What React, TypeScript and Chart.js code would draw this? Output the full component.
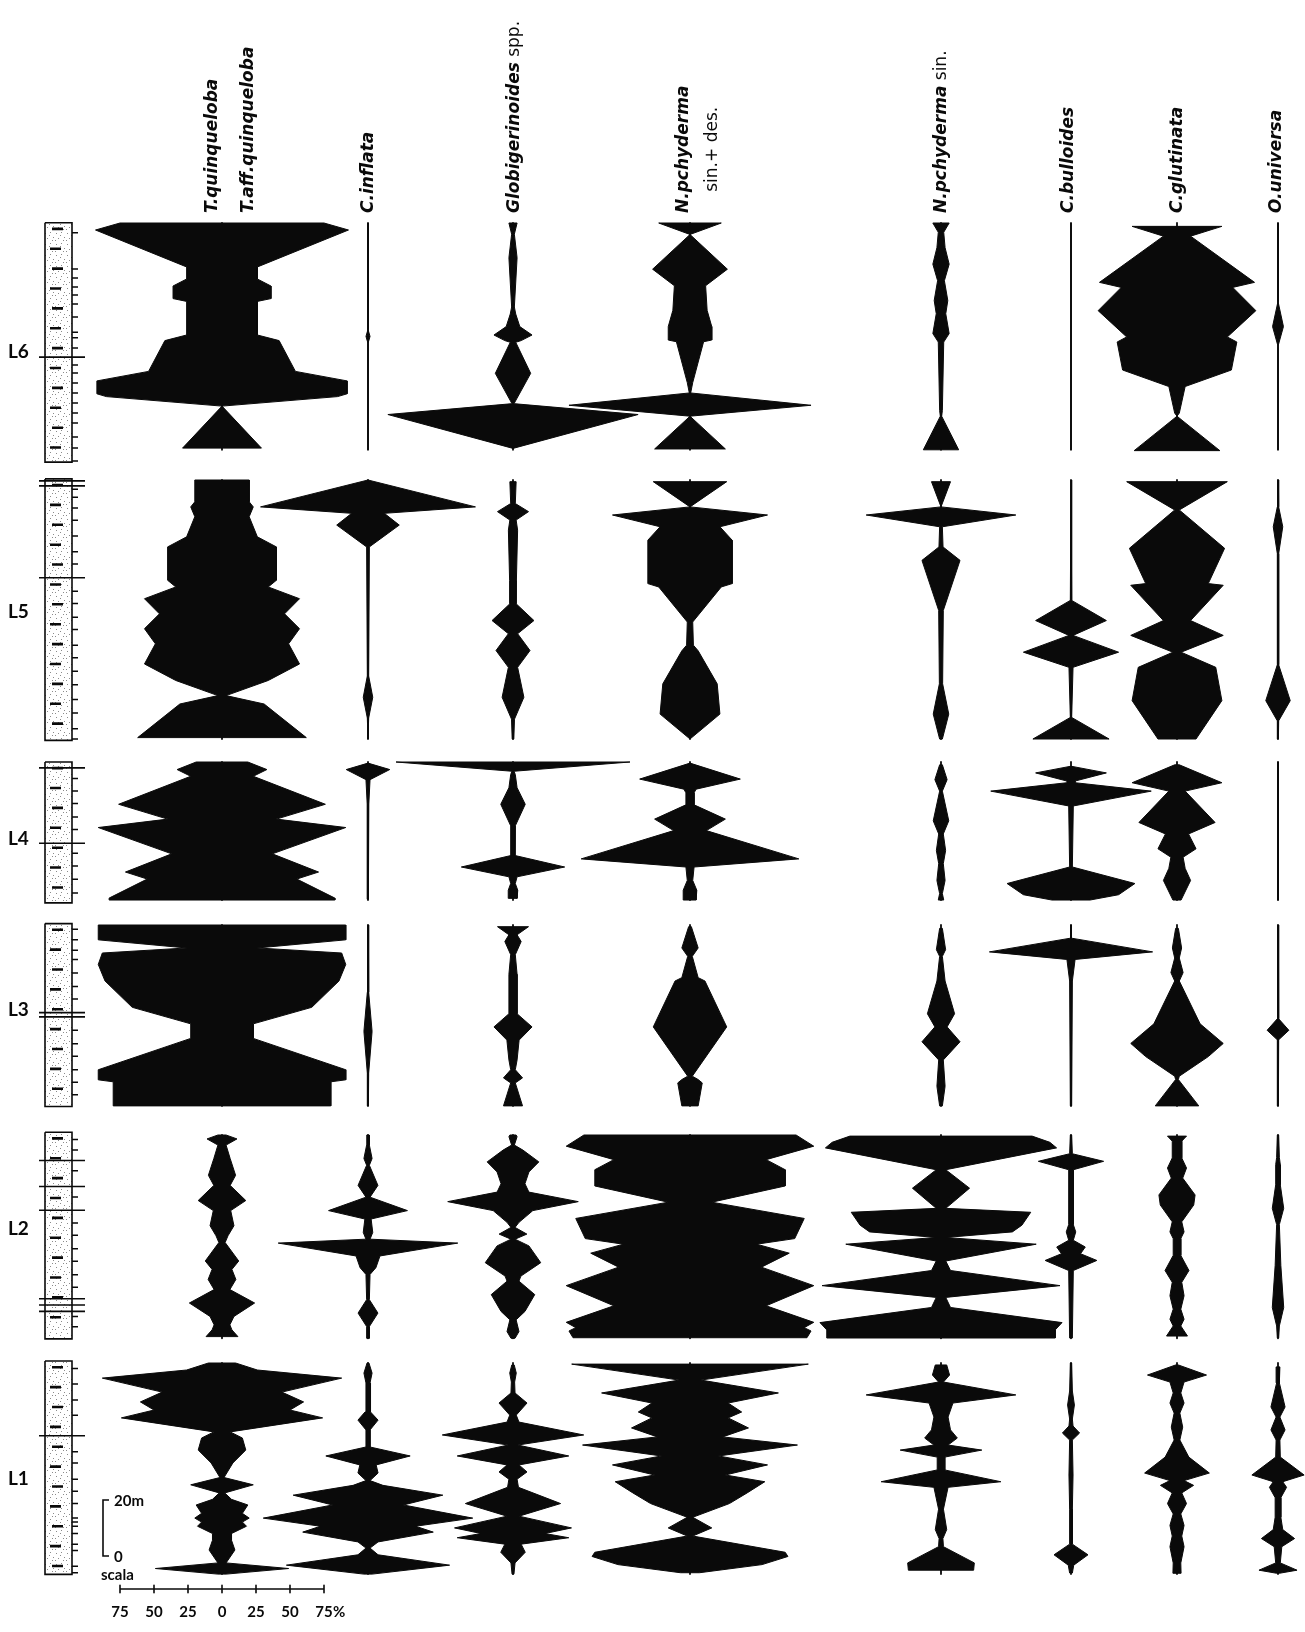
import React, { useEffect, useRef } from "react";
import { Chart, registerables } from "chart.js";

Chart.register(...registerables);

// ================= DATA =================
const SPECIES = [
  "T. quinqueloba + T. aff. quinqueloba",
  "C. inflata",
  "Globigerinoides spp.",
  "N. pachyderma sin. + des.",
  "N. pachyderma sin.",
  "C. bulloides",
  "C. glutinata",
  "O. universa",
];
const SECTIONS = ["L6", "L5", "L4", "L3", "L2", "L1"];
const SECTION_LENGTH_M = [81, 92.5, 49.3, 64.6, 72.6, 75.4];
const STRAT_TOP_M = [-0.1, -0.4, 0, -0.5, -1, -0.7];
const STRAT_BASE_M = [85.4, 93, 50.3, 64.8, 72.8, 75.5];
const SCALE_TICKS = [-75, -50, -25, 0, 25, 50, 75];
const SCALE_BAR_M = 20;

// profiles: [depth below section top (m), abundance (%)]
// ---- L6
const L6_TQ = [[0, 75], [2.5, 93], [15.7, 26], [20, 26], [22.5, 36], [27, 36], [28, 26], [40, 26], [42, 42], [53, 54], [56.4, 92], [61, 92], [62, 85], [65.4, 0], [80.4, 29]];
const L6_CI = [[0, 0], [38, 0], [40.5, 1.5], [43, 0], [81, 0]];
const L6_GL = [[0, 3], [4, 1], [12.4, 3], [30, 1], [32.5, 2], [37, 5], [40, 14], [42, 6], [42.6, 2], [53.7, 13], [64.3, 1], [64.5, 0], [68.4, 92], [80.5, 0]];
const L6_NS = [[0, 23], [4.1, 0], [16.5, 27.5], [22.4, 11.5], [31.2, 12.6], [37, 16], [41.8, 16], [42.4, 10], [57, 2], [60.7, 0.5], [65.1, 89], [69, 0], [80.7, 26]];
const L6_NN = [[0, 6], [3.3, 2], [8.8, 3], [14.7, 6], [20.6, 2.5], [27.7, 5], [32.4, 3.5], [39.5, 6], [42.5, 2], [67, 1], [69, 0.5], [81, 13]];
const L6_CB = [[0, 0], [81, 0]];
const L6_GG = [[1.2, 33], [4.7, 10], [21.2, 57], [23, 41], [31.3, 58], [40.7, 37], [42.5, 44], [52.5, 40], [58.4, 6], [67.9, 1.7], [69, 0], [81.3, 31.5]];
const L6_OU = [[0, 0], [28, 0], [37, 4], [44, 0], [81, 0]];
// ---- L5
const L5_TQ = [[0, 20], [7.8, 20], [9.6, 23], [13.1, 20], [20.3, 26], [23.9, 40], [35.8, 40], [38.2, 34], [42.4, 57], [47.8, 46], [53.1, 57], [58.5, 49], [65.7, 57], [71.6, 34], [77, 3], [80, 31], [92, 62]];
const L5_CI = [[0, 0], [9.6, 79], [11.9, 12], [16.1, 23], [23.9, 1], [70, 0.5], [77.6, 3.5], [85, 0.5], [92.5, 0]];
const L5_GL = [[0.6, 2.3], [8.4, 1.7], [11.3, 11.4], [14.3, 2.3], [17.9, 3.4], [35.8, 2.5], [44.2, 2.3], [50.2, 15.4], [54.9, 3.4], [60.9, 12.5], [66.9, 3.4], [77.6, 8], [85.4, 1.1], [92.5, 0.6]];
const L5_NS = [[0.6, 27], [9.6, 0], [12.5, 57], [16.7, 22], [21.5, 31], [37, 31], [38.2, 23], [50.7, 2], [59, 2.5], [61, 6], [72.8, 20], [83.6, 22], [92.5, 0]];
const L5_NN = [[0.6, 7], [9.6, 0], [12.5, 55], [16.7, 1], [23.9, 1.5], [28.7, 14], [46.6, 1.7], [72.8, 1.2], [83.6, 5.7], [92.5, 1]];
const L5_CB = [[0, 0], [43, 0.5], [50.2, 26], [55.5, 1.5], [61.5, 35], [66.9, 1.5], [84.8, 0.5], [92.5, 28]];
const L5_GG = [[0.6, 37], [10.7, 1.7], [24.4, 35], [37, 23], [37.6, 34], [50.2, 10], [55.5, 34], [61.5, 3], [66.9, 28.5], [78.8, 33], [92.5, 14]];
const L5_OU = [[0, 0.3], [9.6, 0.5], [16.7, 3.5], [26.3, 0.5], [66, 0.5], [78.8, 9], [86, 0.5], [92.5, 0.3]];
// ---- L4
const L4_TQ = [[0, 19], [2.7, 33], [5.1, 23], [15.1, 76], [20.4, 40], [23.4, 91], [32.8, 37], [39.3, 71], [41.8, 55], [48.6, 83], [49.3, 83]];
const L4_CI = [[0.4, 0], [2.7, 16], [6.3, 1.5], [15, 0.6], [49, 0.3]];
const L4_GL = [[0, 86], [3.3, 0.8], [4.5, 1.7], [9.2, 3], [15.1, 9], [22.8, 1.7], [33.4, 1.5], [37.5, 38], [41, 3], [43.4, 1.7], [45.8, 3.5], [48.7, 3]];
const L4_NS = [[0.4, 0], [6.1, 37], [9.7, 4.5], [11, 3], [15.3, 3], [20.4, 26], [24.5, 12], [34.6, 80], [37.5, 3], [42.3, 2], [45.8, 5], [49.3, 4.5]];
const L4_NN = [[1, 1], [6.3, 4.5], [10.4, 1], [21, 5.7], [25.7, 1.7], [31.6, 3.4], [36.3, 1.7], [42.3, 3], [47, 1], [49.3, 2]];
const L4_CB = [[1.5, 0], [3.9, 26], [6.8, 3], [7.4, 3], [10.4, 59], [15.7, 1.7], [37.5, 1], [43.4, 47], [47.4, 35], [49.3, 14]];
const L4_GG = [[1, 1.7], [7.4, 33], [10.4, 6], [21.6, 28], [25.7, 8.5], [31, 14], [34, 4.5], [38, 6], [42.3, 10], [49.3, 3]];
const L4_OU = [[0, 0.3], [49.3, 0.3]];
// ---- L3
const L3_TQ = [[0, 91], [5.3, 91], [8.2, 26], [10, 88], [14.1, 91], [20, 86], [29.4, 66], [35.3, 23], [40.5, 23], [51.7, 91], [55.3, 91], [56, 80], [64.6, 80]];
const L3_CI = [[0, 0.3], [24, 0.5], [38, 3], [52.9, 0.5], [64.6, 0.3]];
const L3_GL = [[0.6, 11.4], [3.5, 3], [5.9, 6], [10.6, 1.7], [17.6, 3], [31.7, 3], [36.4, 14], [41.1, 4.5], [48.2, 3], [51.7, 1.7], [54.6, 7], [56.4, 1.7], [64.6, 7]];
const L3_NS = [[0.6, 1], [8.2, 6], [11.2, 1.7], [18.8, 6], [20, 11], [36.4, 27], [54, 1.7], [55.2, 6], [56.4, 9], [64.6, 6]];
const L3_NN = [[1.2, 1], [8.8, 3.4], [11.2, 1], [20, 3], [31.7, 10], [36.4, 4.5], [41.7, 14], [48.2, 1.7], [57.6, 3], [64.6, 1]];
const L3_CB = [[0, 0.3], [4.7, 0.3], [9.6, 60], [12.3, 3], [20, 1], [64.6, 0.5]];
const L3_GG = [[1.2, 1], [8.2, 3.4], [11.8, 1.7], [17, 4.5], [20, 1.7], [35.3, 17], [42.3, 34], [47, 23], [54, 1.7], [55.2, 1], [64.6, 16]];
const L3_OU = [[0, 0.3], [33.5, 0.5], [37.6, 8], [41, 0.5], [64.6, 0.3]];
// ---- L2
const L2_TQ = [[0, 3], [1.4, 11], [3.6, 3], [8.4, 6], [14.4, 10], [18, 6], [23.4, 17.5], [27, 6.4], [32.4, 8.8], [36, 4.4], [38.4, 2.3], [45, 12.3], [48, 7.3], [51.6, 10.2], [55.2, 5.8], [60, 24], [64.8, 8.8], [67.8, 5.8], [69.6, 7.3], [72, 11.7]];
const L2_CI = [[0, 0.9], [3.6, 1], [8.4, 3], [10.8, 1], [18, 7.3], [22.2, 1.5], [27, 29], [30, 2.3], [34.8, 3.5], [37.2, 1.5], [38.6, 66], [43.2, 8.8], [47.4, 5.8], [49.8, 1.5], [58.8, 1], [63.6, 7.3], [68.4, 1], [72.6, 1]];
const L2_GL = [[0, 2.3], [0.6, 3], [3.6, 1], [5.4, 7.3], [9.6, 19], [13.2, 11.7], [17.4, 8.8], [20.4, 11.7], [23.8, 48], [27, 14.6], [31.2, 4.4], [33, 1.5], [35.4, 10.2], [37.2, 1.5], [39.6, 11.7], [45.6, 20.4], [50.4, 5.8], [52.2, 4.4], [57, 16], [63, 8.8], [66, 2.3], [70.2, 4.4], [72.6, 1.5]];
const L2_NS = [[0, 78], [4, 91], [8.8, 56], [12.4, 70], [18.2, 70], [24, 16], [29.8, 84], [37, 77], [39, 49], [42.2, 73], [47.2, 52.5], [53.8, 91], [61, 56], [66.9, 91], [68.8, 84], [70, 89], [72.4, 86]];
const L2_NN = [[0.4, 67], [2.6, 80], [4.6, 85], [12.4, 3.5], [19, 21], [26.2, 3.5], [27.6, 66], [32.2, 59.5], [34.6, 52.5], [36.6, 3.5], [39, 70], [45, 3.5], [48.4, 7], [53.8, 87.5], [58, 3.5], [61.6, 7], [67, 89], [69.6, 84], [72.5, 84]];
const L2_CB = [[0, 0.5], [6.7, 1], [9.4, 24], [12.4, 1.7], [32, 1.7], [34.6, 3.5], [37.6, 1.7], [40, 10.5], [42.4, 7], [44.8, 19], [48.4, 1.7], [72.5, 1]];
const L2_GG = [[0.4, 7], [2.2, 3.5], [8.2, 3.5], [11.8, 7], [15.4, 4.2], [21.4, 13.3], [25, 12.3], [31, 3.5], [34.6, 5.2], [37, 2.8], [43, 2.8], [48.4, 8.8], [52.6, 3.5], [57.4, 5.2], [62.2, 2.8], [65.8, 5.2], [68.2, 2.8], [71.8, 7.7]];
const L2_OU = [[0, 0.5], [8, 1], [10.6, 1.7], [17.8, 1.7], [26.2, 4.2], [32, 1], [46.6, 2.1], [61.6, 4.2], [68.2, 1], [72.5, 0.5]];
// ---- L1
const L1_TQ = [[0, 10], [2.5, 26], [5.4, 88], [10.4, 44], [13.9, 60], [16.8, 50], [19.6, 74], [24.6, 6], [26.8, 15], [31.1, 17.5], [35.7, 8], [40.9, 1.5], [43.5, 23], [46.4, 2], [48.7, 7], [50.7, 19], [53.7, 15], [55.4, 20], [56.8, 15], [58.3, 18], [60.9, 7], [63.3, 7], [66.8, 9.5], [71.4, 3], [73.4, 49], [75.4, 3]];
const L1_CI = [[0, 0.7], [3.6, 3], [7.1, 1.5], [13.2, 1.5], [17.5, 2.2], [20.4, 7.4], [23.9, 1.5], [30, 1.5], [33.2, 31], [36.4, 6], [39.3, 7.4], [42, 1.5], [43.7, 11], [47.2, 55], [50.7, 26], [55.4, 77], [58.3, 35], [60.4, 48], [63.9, 7.4], [66.1, 1.5], [68.5, 7.4], [72.2, 60], [75.4, 3]];
const L1_GL = [[0.7, 0.9], [3.6, 2.4], [6.8, 1.2], [10.7, 1.5], [14.3, 10.3], [18.6, 2.4], [21.1, 4.4], [25.7, 52], [29.3, 3.5], [33.2, 41], [36.4, 4.4], [38.9, 10.3], [41.5, 3], [44.4, 4], [50.2, 35], [54.7, 4.4], [58.9, 43], [60.9, 23.5], [62.4, 41], [64.7, 6], [67.6, 9], [71.4, 1.5], [75.4, 0.7]];
const L1_NS = [[0.4, 87], [6.1, 8], [10.7, 65], [14.3, 28], [17.5, 38], [19.6, 28], [23.2, 43], [26.4, 24], [29.3, 79], [33.2, 21], [36.4, 57], [40, 26], [42.4, 55], [46.4, 42], [50.2, 29], [55.1, 2], [58.9, 16], [61.8, 2], [67.6, 70], [69.1, 72], [72, 53], [74.9, 7]];
const L1_NN = [[0.7, 4.2], [4.3, 6.3], [6.8, 1.8], [11.4, 55], [14.3, 8.8], [19.3, 5.2], [23.9, 7], [26.8, 12], [29.3, 5.2], [31.1, 30], [33.6, 2.8], [38.2, 2.8], [42.4, 44], [44.4, 5.2], [52.2, 1.8], [59.5, 4.2], [62.7, 1.4], [65.6, 1.8], [71.4, 24.5], [74, 24]];
const L1_CB = [[0, 0.5], [10, 1], [15, 2.5], [20, 1], [22.5, 1.5], [25, 6.3], [27.5, 1], [40, 1.5], [52.2, 1], [64.7, 1], [68.5, 12.5], [72.2, 2], [75, 1]];
const L1_GG = [[0.7, 1], [4.3, 21.7], [6.8, 5.2], [10.7, 2.8], [14.3, 5.2], [17.9, 2.1], [22.9, 4.2], [27.5, 2.1], [33.6, 8.7], [39.3, 23.8], [42, 5.2], [43.7, 12.2], [46.4, 3.5], [50.2, 7], [53.9, 2.8], [58, 5.2], [61.8, 3.5], [65.6, 5.2], [71.4, 2.8], [75.1, 3]];
const L1_OU = [[1.4, 1.4], [7.1, 1], [15.7, 5.2], [19.3, 1.4], [23.9, 5.2], [27.5, 1.4], [33.6, 1.7], [40, 19.2], [42.4, 3.5], [44.4, 6.3], [48.1, 2.1], [55.1, 2.1], [59.5, 3.5], [62.7, 12.2], [65.6, 2.8], [71.4, 1.7], [74, 14], [75.1, 1]];

// sample levels (ticks on the right of each log) and marker horizons (m below top)
const L6_SAMPLES = [3.5, 16.4, 19.6, 22.9, 25.7, 28.9, 33.6, 39, 41, 44.6, 50.7, 53.6, 57.1, 60.7, 64.3, 67.9, 71.4, 76.4, 80.4, 85];
const L6_MARKERS = [47.9];
const L5_SAMPLES = [3.3, 6.2, 10, 14.4, 20, 25.6, 30, 39.7, 44.1, 49, 53.4, 59, 63.5, 68.3, 73.1, 78.4, 83.2, 88.8, 92.5];
const L5_MARKERS = [0.3, 2.1, 34.9];
const L4_SAMPLES = [5.9, 10.4, 14.8, 19.6, 24.1, 32.6, 37.1, 41.9, 46.8];
const L4_MARKERS = [2.1, 29];
const L3_SAMPLES = [1.5, 5.3, 9, 12.3, 17.1, 22, 26.4, 37.6, 42.4, 46.9, 51.7, 56.2, 60.6];
const L3_MARKERS = [31.3, 32.8];
const L2_SAMPLES = [1.6, 5.4, 12.8, 22.1, 31.4, 35.8, 40.6, 45.1, 49.9, 54.4, 64.8, 68.5];
const L2_MARKERS = [9.1, 18.4, 26.9, 58.5, 60.7, 63];
const L1_SAMPLES = [2, 7.5, 13.2, 18.7, 31.7, 35.7, 41.5, 45.8, 50.2, 55.4, 56.8, 58.3, 60.9, 64.7, 67, 72.6, 74.9];
const L1_MARKERS = [26];

const PROFILES = [
  [L6_TQ, L6_CI, L6_GL, L6_NS, L6_NN, L6_CB, L6_GG, L6_OU],
  [L5_TQ, L5_CI, L5_GL, L5_NS, L5_NN, L5_CB, L5_GG, L5_OU],
  [L4_TQ, L4_CI, L4_GL, L4_NS, L4_NN, L4_CB, L4_GG, L4_OU],
  [L3_TQ, L3_CI, L3_GL, L3_NS, L3_NN, L3_CB, L3_GG, L3_OU],
  [L2_TQ, L2_CI, L2_GL, L2_NS, L2_NN, L2_CB, L2_GG, L2_OU],
  [L1_TQ, L1_CI, L1_GL, L1_NS, L1_NN, L1_CB, L1_GG, L1_OU],
];
const SAMPLES = [L6_SAMPLES, L5_SAMPLES, L4_SAMPLES, L3_SAMPLES, L2_SAMPLES, L1_SAMPLES];
const MARKERS = [L6_MARKERS, L5_MARKERS, L4_MARKERS, L3_MARKERS, L2_MARKERS, L1_MARKERS];

// ================= LAYOUT / STYLE =================
const W = 1305;
const H = 1632;
const PX_PER_PCT = 1.36;
const PX_PER_M = 2.8;
const SECTION_TOP_PX = [223, 480, 762, 925, 1135, 1363];
const SECTION_LABEL_Y = [351, 611, 838, 1009, 1228, 1478];
const COLUMN_CENTER_PX = [222, 368, 513, 690, 941, 1071, 1177, 1278];
const STRAT_L = 45;
const STRAT_R = 72;
const TICK_R = 78;
const MARK_L = 39;
const MARK_R = 85;
const DASH_L = 52;
const DASH_R = 63;
const RULER_Y = 1589;
const BRACKET_X = 103;
const BRACKET_TOP = 1500;
const HEADER_BASE = 213;
const INK = "#0a0a0a";
const FONT = 'Lato, "DejaVu Sans", sans-serif';
const HEAD_FONT = '"DejaVu Sans", Lato, sans-serif';

const ux = (px: number) => px / PX_PER_PCT;
const uy = (px: number) => px / PX_PER_M;
const dy = (s: number, d: number) => uy(SECTION_TOP_PX[s]) + d;

function makeStipple() {
  const c = document.createElement("canvas");
  c.width = 11;
  c.height = 11;
  const g = c.getContext("2d") as CanvasRenderingContext2D;
  g.fillStyle = "#ffffff";
  g.fillRect(0, 0, 11, 11);
  g.fillStyle = "#8c8c8c";
  [[1, 2], [6, 1], [3, 7], [9, 6], [5, 4], [8, 9], [0, 9]].forEach(([x, y]) => g.fillRect(x, y, 1, 1));
  return g.createPattern(c, "repeat");
}

function buildDatasets(stipple: any) {
  const ds: any[] = [];
  const base = {
    pointRadius: 0,
    pointHoverRadius: 0,
    tension: 0,
    spanGaps: false,
    fill: false,
    borderColor: INK,
    borderJoinStyle: "round",
    borderCapStyle: "butt",
  };
  SECTIONS.forEach((name, s) => {
    // kites
    PROFILES[s].forEach((prof: number[][], c: number) => {
      const cx = ux(COLUMN_CENTER_PX[c]);
      const right = prof.map(([d, v]) => ({ x: cx + v, y: dy(s, d) }));
      const left = prof
        .slice()
        .reverse()
        .map(([d, v]) => ({ x: cx - v, y: dy(s, d) }));
      ds.push({
        ...base,
        label: name + " " + SPECIES[c],
        data: [...right, ...left, right[0]],
        fill: "shape",
        backgroundColor: INK,
        borderWidth: 1,
        order: 0,
      });
    });
    // stems
    const stems: any[] = [];
    COLUMN_CENTER_PX.forEach((px) => {
      const x = ux(px);
      stems.push({ x, y: dy(s, 0) }, { x, y: dy(s, SECTION_LENGTH_M[s]) }, { x, y: null });
    });
    ds.push({ ...base, label: name + " stems", data: stems, borderWidth: 1.8, order: 1 });
    // log column
    const t = dy(s, STRAT_TOP_M[s]);
    const b = dy(s, STRAT_BASE_M[s]);
    ds.push({
      ...base,
      label: name + " log",
      data: [
        { x: ux(STRAT_L), y: t },
        { x: ux(STRAT_R), y: t },
        { x: ux(STRAT_R), y: b },
        { x: ux(STRAT_L), y: b },
        { x: ux(STRAT_L), y: t },
      ],
      fill: "shape",
      backgroundColor: stipple,
      borderWidth: 1.6,
      borderJoinStyle: "miter",
      order: 10,
    });
    // lithology dashes
    const dashes: any[] = [];
    let k = 0;
    for (let d = STRAT_TOP_M[s] + 2.2; d < STRAT_BASE_M[s] - 1; d += 7.1) {
      const off = k % 2 === 0 ? 0 : -2;
      dashes.push({ x: ux(DASH_L + off), y: dy(s, d) }, { x: ux(DASH_R + off), y: dy(s, d) }, { x: 0, y: null });
      k++;
    }
    ds.push({ ...base, label: name + " dashes", data: dashes, borderWidth: 2.6, order: 5 });
    // sample ticks
    const ticks: any[] = [];
    SAMPLES[s].forEach((d) => {
      ticks.push({ x: ux(STRAT_R), y: dy(s, d) }, { x: ux(TICK_R), y: dy(s, d) }, { x: 0, y: null });
    });
    ds.push({ ...base, label: name + " samples", data: ticks, borderWidth: 1.5, order: 5 });
    // marker horizons
    const marks: any[] = [];
    MARKERS[s].forEach((d) => {
      marks.push({ x: ux(MARK_L), y: dy(s, d) }, { x: ux(MARK_R), y: dy(s, d) }, { x: 0, y: null });
    });
    ds.push({ ...base, label: name + " markers", data: marks, borderWidth: 1.6, order: 5 });
  });

  // percentage ruler under the first column
  const c0 = ux(COLUMN_CENTER_PX[0]);
  const ry = uy(RULER_Y);
  const ruler: any[] = [
    { x: c0 + SCALE_TICKS[0], y: ry },
    { x: c0 + SCALE_TICKS[SCALE_TICKS.length - 1], y: ry },
    { x: 0, y: null },
  ];
  SCALE_TICKS.forEach((v) => {
    ruler.push({ x: c0 + v, y: ry - 1.3 }, { x: c0 + v, y: ry + 1.3 }, { x: 0, y: null });
  });
  ds.push({ ...base, label: "scale %", data: ruler, borderWidth: 1.6, order: 2 });

  // 20 m bracket
  const by = uy(BRACKET_TOP);
  ds.push({
    ...base,
    label: "scale m",
    data: [
      { x: ux(BRACKET_X + 6), y: by },
      { x: ux(BRACKET_X), y: by },
      { x: ux(BRACKET_X), y: by + SCALE_BAR_M },
      { x: ux(BRACKET_X + 6), y: by + SCALE_BAR_M },
    ],
    borderWidth: 1.6,
    borderJoinStyle: "miter",
    order: 2,
  });
  return ds;
}

const SP: any = { fontStyle: "italic", fontWeight: 700 };
const AUX: any = { fontStyle: "normal", fontWeight: 400 };

function VLabel({ cx, lh = 20, children }: any) {
  return (
    <div
      style={{
        position: "absolute",
        left: cx - lh / 2,
        top: HEADER_BASE,
        transformOrigin: "0 0",
        transform: "rotate(-90deg)",
        whiteSpace: "nowrap",
        fontFamily: HEAD_FONT,
        fontSize: 17,
        lineHeight: lh + "px",
        textAlign: "center",
        color: INK,
      }}
    >
      {children}
    </div>
  );
}

export default function App() {
  const ref = useRef<HTMLCanvasElement>(null);

  useEffect(() => {
    const canvas = ref.current;
    if (!canvas) return;
    const chart = new Chart(canvas, {
      type: "line",
      data: { datasets: buildDatasets(makeStipple()) },
      options: {
        animation: false,
        responsive: false,
        maintainAspectRatio: false,
        devicePixelRatio: 1,
        events: [],
        layout: { padding: 0, autoPadding: false },
        plugins: { legend: { display: false }, tooltip: { enabled: false }, title: { display: false } },
        elements: { point: { radius: 0 }, line: { tension: 0 } },
        scales: {
          x: { type: "linear", display: false, min: 0, max: W / PX_PER_PCT },
          y: { type: "linear", display: false, reverse: true, min: 0, max: H / PX_PER_M },
        },
      } as any,
    });
    return () => chart.destroy();
  }, []);

  const c0 = COLUMN_CENTER_PX[0];
  return (
    <div
      style={{
        position: "absolute",
        left: 0,
        top: 0,
        width: W,
        height: H,
        background: "#ffffff",
        overflow: "hidden",
        fontFamily: FONT,
        color: INK,
      }}
    >
      <canvas ref={ref} width={W} height={H} style={{ position: "absolute", left: 0, top: 0 }} />

      <VLabel cx={211}><span style={SP}>T.quinqueloba</span></VLabel>
      <VLabel cx={247}><span style={SP}>T.aff.quinqueloba</span></VLabel>
      <VLabel cx={367}><span style={SP}>C.inflata</span></VLabel>
      <VLabel cx={513}><span style={SP}>Globigerinoides</span><span style={AUX}> spp.</span></VLabel>
      <VLabel cx={682} lh={29}>
        <span style={SP}>N.pchyderma</span>
        <br />
        <span style={AUX}>sin.+ des.</span>
      </VLabel>
      <VLabel cx={940}><span style={SP}>N.pchyderma</span><span style={AUX}> sin.</span></VLabel>
      <VLabel cx={1067}><span style={SP}>C.bulloides</span></VLabel>
      <VLabel cx={1176}><span style={SP}>C.glutinata</span></VLabel>
      <VLabel cx={1275}><span style={SP}>O.universa</span></VLabel>

      {SECTIONS.map((s, i) => (
        <div
          key={s}
          style={{ position: "absolute", left: 8, top: SECTION_LABEL_Y[i] - 11, fontSize: 19, lineHeight: "22px", fontWeight: 700 }}
        >
          {s}
        </div>
      ))}

      {SCALE_TICKS.map((v, i) => (
        <div
          key={i}
          style={{
            position: "absolute",
            left: (ux(c0) + v) * PX_PER_PCT - 15,
            width: 30,
            top: RULER_Y + 13,
            fontSize: 15,
            lineHeight: "18px",
            fontWeight: 700,
            textAlign: "center",
          }}
        >
          {Math.abs(v)}
          {i === SCALE_TICKS.length - 1 ? <span style={{ position: "absolute", left: 24 }}>%</span> : null}
        </div>
      ))}

      <div style={{ position: "absolute", left: BRACKET_X + 11, top: BRACKET_TOP - 9, fontSize: 15, lineHeight: "18px", fontWeight: 700 }}>
        {SCALE_BAR_M}m
      </div>
      <div style={{ position: "absolute", left: BRACKET_X + 11, top: BRACKET_TOP + SCALE_BAR_M * PX_PER_M - 9, fontSize: 15, lineHeight: "18px", fontWeight: 700 }}>
        0
      </div>
      <div style={{ position: "absolute", left: BRACKET_X - 2, top: 1565, fontSize: 15, lineHeight: "18px", fontWeight: 700 }}>
        scala
      </div>
    </div>
  );
}
